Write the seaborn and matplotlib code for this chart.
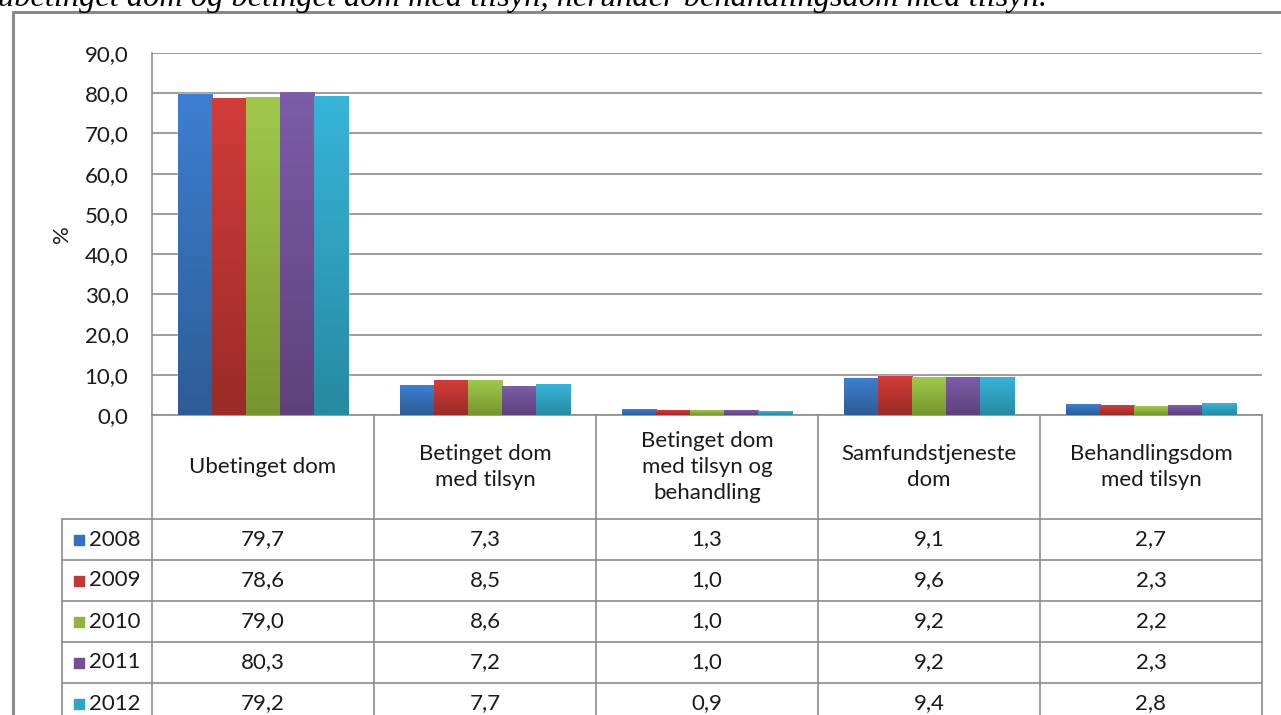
import numpy as np
import pandas as pd
import matplotlib
matplotlib.use("Agg")
import matplotlib.pyplot as plt
import matplotlib.transforms as mtransforms
from matplotlib.colors import LinearSegmentedColormap
import seaborn as sns

categories = ["Ubetinget dom", "Betinget dom\nmed tilsyn", "Betinget dom\nmed tilsyn og\nbehandling",
              "Samfundstjeneste\ndom", "Behandlingsdom\nmed tilsyn"]
years = ["2008", "2009", "2010", "2011", "2012"]
v2008 = [79.7, 7.3, 1.3, 9.1, 2.7]
v2009 = [78.6, 8.5, 1.0, 9.6, 2.3]
v2010 = [79.0, 8.6, 1.0, 9.2, 2.2]
v2011 = [80.3, 7.2, 1.0, 9.2, 2.3]
v2012 = [79.2, 7.7, 0.9, 9.4, 2.8]
title = "ubetinget dom og betinget dom med tilsyn, herunder behandlingsdom med tilsyn."

values = [v2008, v2009, v2010, v2011, v2012]
top_cols = ["#3d7fd1", "#d23d3a", "#a0c94b", "#7d5ca8", "#38b4d9"]
bot_cols = ["#2d5c96", "#9a2b28", "#76952f", "#5e417b", "#268aa1"]
mid_cols = ["#3670bd", "#bf3a37", "#8fb540", "#70509a", "#31a3c6"]

rows = []
for y, vals in zip(years, values):
    for c, v in zip(categories, vals):
        rows.append({"kategori": c, "aar": y, "pst": v})
df = pd.DataFrame(rows)

sns.set_style("white")
plt.rcParams["font.family"] = ["Lato", "DejaVu Sans"]
fs = 16
tc = "#1a1a1a"

W, H = 1281, 715
fig = plt.figure(figsize=(W / 100, H / 100), dpi=100)

# overlay in pixel coordinates for frame, title and table
ov = fig.add_axes([0, 0, 1, 1])
ov.set_xlim(0, W)
ov.set_ylim(H, 0)
ov.axis("off")

x0, x1, ytop, ybot = 152, 1262, 53, 415
ax = fig.add_axes([x0 / W, 1 - ybot / H, (x1 - x0) / W, (ybot - ytop) / H])
sns.barplot(data=df, x="kategori", y="pst", hue="aar", order=categories, hue_order=years,
            palette=mid_cols, width=0.766, saturation=1, legend=False, ax=ax, zorder=3)

# gradient fill on each bar
for i, cont in enumerate(ax.containers):
    cmap = LinearSegmentedColormap.from_list("g%d" % i, [bot_cols[i], top_cols[i]])
    for bar in cont:
        bx, bw, bh = bar.get_x(), bar.get_width(), bar.get_height()
        ax.imshow(np.linspace(0, 1, 256).reshape(-1, 1), cmap=cmap, origin="lower",
                  extent=[bx, bx + bw, 0, bh], aspect="auto", zorder=4)

ax.set_xlim(-0.5, len(categories) - 0.5)
ax.set_ylim(0, 90)
ax.set_yticks(range(0, 91, 10))
ax.set_yticklabels([f"{t:.1f}".replace(".", ",") for t in range(0, 91, 10)], fontsize=fs, color=tc)
ax.tick_params(axis="y", length=0, pad=17)
ax.set_xticks([])
ax.set_xlabel("")
ax.set_ylabel("%", fontsize=fs, color=tc)
ax.yaxis.set_label_coords((72 - x0) / (x1 - x0), 0.5)
ax.yaxis.grid(True, color="#8c8c8c", lw=1.2, zorder=0)
for s in ["top", "right"]:
    ax.spines[s].set_visible(False)
for s in ["left", "bottom"]:
    ax.spines[s].set_color("#8c8c8c")
    ax.spines[s].set_linewidth(1.2)

# chart frame and cut-off title
ov.plot([13, 13, W], [H, 12, 12], color="#8a8a8a", lw=2.2)
ov.text(-2, 6, title, fontsize=23.3, style="italic", family="Liberation Serif",
        ha="left", va="baseline", color="#000000")

# data table under the plot
tr = mtransforms.blended_transform_factory(ax.transData, ov.transData)
bounds = np.arange(len(categories) + 1) - 0.5
lc = "#8c8c8c"
header_bot = 519
row_h = 41
for b in bounds:
    ov.plot([b, b], [ybot, H + 5], transform=tr, color=lc, lw=1.2, clip_on=False)
right_px = ax.transData.transform((bounds[-1], 0))[0]
ov.plot([62, 62], [header_bot, H + 5], color=lc, lw=1.2)
for k in range(len(years) + 1):
    yy = header_bot + k * row_h
    ov.plot([62, right_px], [yy, yy], color=lc, lw=1.2)

for j, c in enumerate(categories):
    ov.text(j, (ybot + header_bot) / 2, c, transform=tr, ha="center", va="center",
            fontsize=fs, color=tc, linespacing=1.4)

for k, (y, vals) in enumerate(zip(years, values)):
    yc = header_bot + k * row_h + row_h / 2
    ov.scatter([78.5], [yc], marker="s", s=62, color=mid_cols[k], zorder=5)
    ov.text(89, yc, y, ha="left", va="center", fontsize=fs, color=tc)
    for j, v in enumerate(vals):
        ov.text(j, yc, f"{v:.1f}".replace(".", ","), transform=tr, ha="center", va="center",
                fontsize=fs, color=tc)

fig.savefig("out.png", dpi=100)
